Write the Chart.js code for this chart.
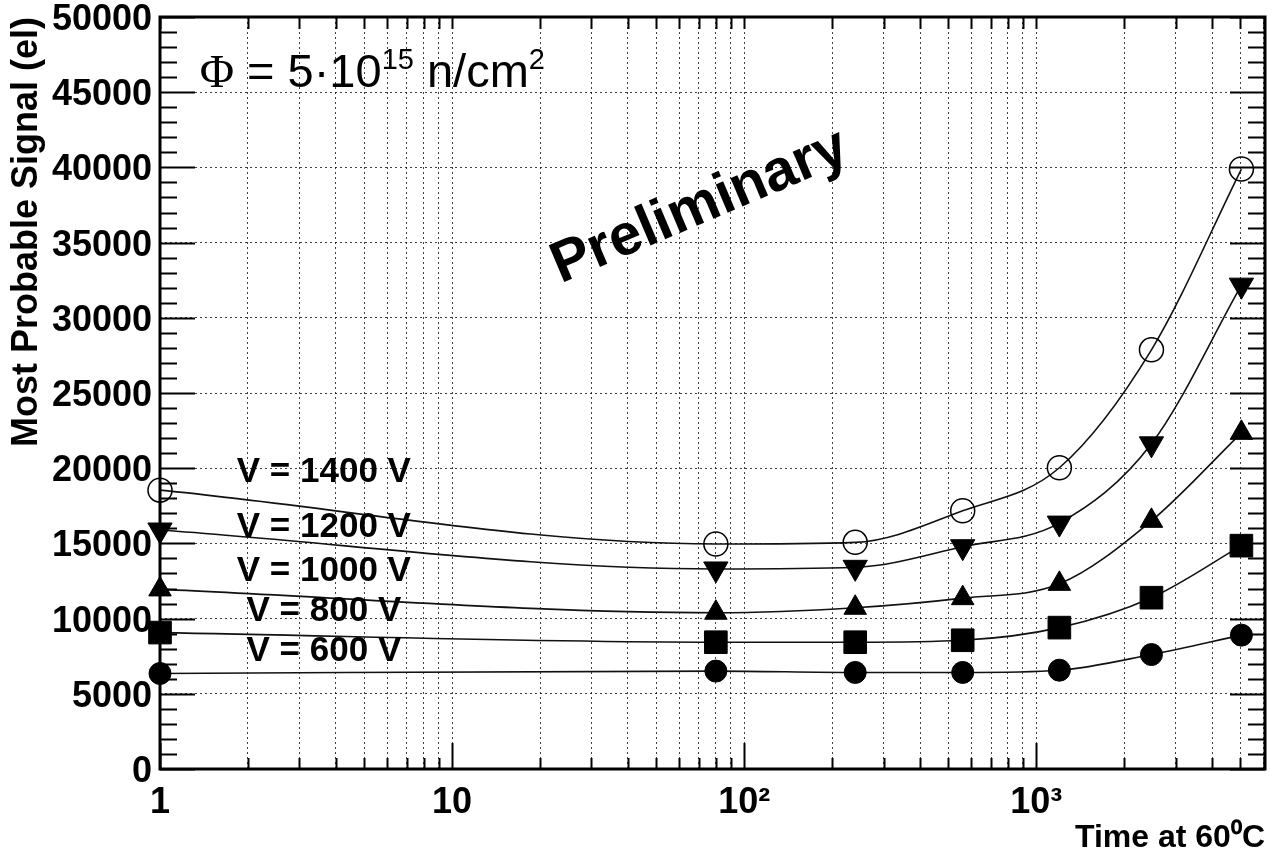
<!DOCTYPE html>
<html>
<head>
<meta charset="utf-8">
<script src="https://cdn.jsdelivr.net/npm/chart.js@4.4.1/dist/chart.umd.min.js"></script>
<style>
  html, body { margin: 0; padding: 0; background: #fff; }
  #wrap { width: 1282px; height: 858px; }
</style>
</head>
<body>
<div id="wrap"><canvas id="chartSignal" width="1282" height="858"></canvas></div>
<script>
// annealing time at 60 C
const times = [1, 80, 240, 560, 1200, 2480, 5040];

// most probable signal (el) per bias voltage
const signal1400 = [18540, 14960, 15070, 17170, 20030, 27870, 39890];
const signal1200 = [15890, 13300, 13410, 14780, 16350, 21620, 32170];
const signal1000 = [11940, 10390, 10720, 11360, 12310, 16500, 22350];
const signal800 = [9070, 8430, 8430, 8560, 9400, 11390, 14850];
const signal600 = [6350, 6510, 6420, 6420, 6570, 7610, 8900];

// text next to the curves (placed in data units)
const voltageLabels = ['V = 1400 V', 'V = 1200 V', 'V = 1000 V', 'V = 800 V', 'V = 600 V'];
const voltageLabelTime = 3.64;
const voltageLabelSignal = [19700, 16060, 13150, 10500, 7830];

const xMin = 1;
const xMax = 6070;
const yMin = 0;
const yMax = 50000;
const xDecadeLabels = { 1: '1', 10: '10', 100: '10\u00b2', 1000: '10\u00b3' };

const xTicks = [];
[1, 10, 100, 1000].forEach(d => {
    for (let k = 1; k <= 9; k++) {
        if (k * d <= xMax) xTicks.push(k * d);
    }
});

const toPoints = (vals) => times.map((t, i) => ({ x: t, y: vals[i] }));

const FONT = '"Liberation Sans", Arial, Helvetica, sans-serif';
const gridColor = 'rgba(0,0,0,0.75)';

function series(label, vals, style) {
    return Object.assign({
        label: label,
        data: toPoints(vals),
        borderColor: '#111',
        borderWidth: 1.6,
        cubicInterpolationMode: 'monotone',
        pointBackgroundColor: '#000',
        pointBorderColor: '#000',
        pointBorderWidth: 1,
        clip: false
    }, style);
}

// frame, inner tick marks and free text
const decorations = {
    id: 'decorations',
    afterDraw(chart) {
        const { ctx, chartArea: a, scales: { x, y } } = chart;
        ctx.save();

        // labels next to the curves
        ctx.fillStyle = '#000';
        ctx.font = 'bold 35px ' + FONT;
        ctx.textAlign = 'center';
        ctx.textBaseline = 'middle';
        voltageLabels.forEach((txt, i) => {
            ctx.fillText(txt, x.getPixelForValue(voltageLabelTime), y.getPixelForValue(voltageLabelSignal[i]));
        });

        // Preliminary
        ctx.save();
        ctx.translate(x.getPixelForValue(70.5), y.getPixelForValue(37360));
        ctx.rotate(-23 * Math.PI / 180);
        ctx.font = 'bold 58px ' + FONT;
        ctx.fillText('Preliminary', 0, 0);
        ctx.restore();

        // fluence
        ctx.textAlign = 'left';
        ctx.textBaseline = 'alphabetic';
        let px = x.getPixelForValue(1.367);
        const base = y.getPixelForValue(45370);
        const parts = [
            { t: '\u03a6', f: '47px "Liberation Serif", serif', dy: 0 },
            { t: ' = 5\u00b710', f: '47px ' + FONT, dy: 0 },
            { t: '15', f: '29px ' + FONT, dy: -18 },
            { t: ' n/cm', f: '47px ' + FONT, dy: 0 },
            { t: '2', f: '29px ' + FONT, dy: -18 }
        ];
        parts.forEach(p => {
            ctx.font = p.f;
            ctx.fillText(p.t, px, base + p.dy);
            px += ctx.measureText(p.t).width;
        });

        // tick marks inside the frame
        ctx.strokeStyle = '#000';
        ctx.lineWidth = 2;
        ctx.beginPath();
        for (let v = yMin; v <= yMax; v += 1000) {
            const py = Math.round(y.getPixelForValue(v)) + 0.5;
            const len = v % 5000 === 0 ? 35 : 17;
            ctx.moveTo(a.left, py); ctx.lineTo(a.left + len, py);
            ctx.moveTo(a.right, py); ctx.lineTo(a.right - len, py);
        }
        xTicks.forEach(v => {
            const xp = Math.round(x.getPixelForValue(v)) + 0.5;
            const major = v in xDecadeLabels;
            ctx.moveTo(xp, a.bottom); ctx.lineTo(xp, a.bottom - (major ? 26 : 11));
            ctx.moveTo(xp, a.top); ctx.lineTo(xp, a.top + 12);
        });
        ctx.stroke();

        ctx.lineWidth = 3;
        ctx.strokeRect(a.left, a.top, a.right - a.left, a.bottom - a.top);
        ctx.restore();
    }
};

const configSignal = {
    type: 'line',
    data: {
        datasets: [
            series('1400 V', signal1400, { pointStyle: 'circle', pointRadius: 12, pointBackgroundColor: 'rgba(255,255,255,0)', pointBorderWidth: 1.5 }),
            series('1200 V', signal1200, { pointStyle: 'triangle', pointRotation: 180, pointRadius: 14 }),
            series('1000 V', signal1000, { pointStyle: 'triangle', pointRadius: 13 }),
            series('800 V', signal800, { pointStyle: 'rect', pointRadius: 16 }),
            series('600 V', signal600, { pointStyle: 'circle', pointRadius: 11 })
        ]
    },
    options: {
        responsive: false,
        animation: false,
        events: [],
        layout: { padding: { left: 0, right: 7, top: 14, bottom: 0 } },
        plugins: {
            legend: { display: false },
            tooltip: { enabled: false }
        },
        scales: {
            x: {
                type: 'logarithmic',
                min: xMin,
                max: xMax,
                afterBuildTicks: (scale) => { scale.ticks = xTicks.map(v => ({ value: v })); },
                afterFit: (scale) => { scale.height = 89; scale.paddingLeft = 0; scale.paddingRight = 0; },
                ticks: {
                    autoSkip: false,
                    maxRotation: 0,
                    padding: 12,
                    color: '#000',
                    font: { family: FONT, size: 36, weight: 'bold' },
                    callback: (v) => xDecadeLabels[v] || ''
                },
                grid: { color: gridColor, lineWidth: 1, drawTicks: false },
                border: { display: false, dash: [2, 3] },
                title: {
                    display: true,
                    text: 'Time at 60\u2070C',
                    align: 'end',
                    color: '#000',
                    font: { family: FONT, size: 32, weight: 'bold' },
                    padding: { top: 0, bottom: 1 }
                }
            },
            y: {
                min: yMin,
                max: yMax,
                afterFit: (scale) => { scale.width = 160; scale.paddingTop = 0; scale.paddingBottom = 0; },
                ticks: {
                    stepSize: 5000,
                    padding: 8,
                    labelOffset: 3,
                    color: '#000',
                    font: { family: FONT, size: 36, weight: 'bold' },
                    callback: (v) => String(v)
                },
                grid: { color: gridColor, lineWidth: 1, drawTicks: false },
                border: { display: false, dash: [2, 3] },
                title: {
                    display: true,
                    text: 'Most Probable Signal (el)',
                    align: 'end',
                    color: '#000',
                    font: { family: FONT, size: 36, weight: 'bold' },
                    padding: { top: 5, bottom: 0 }
                }
            }
        }
    },
    plugins: [decorations]
};

const chartSignal = new Chart(document.getElementById('chartSignal'), configSignal);
</script>
</body>
</html>
